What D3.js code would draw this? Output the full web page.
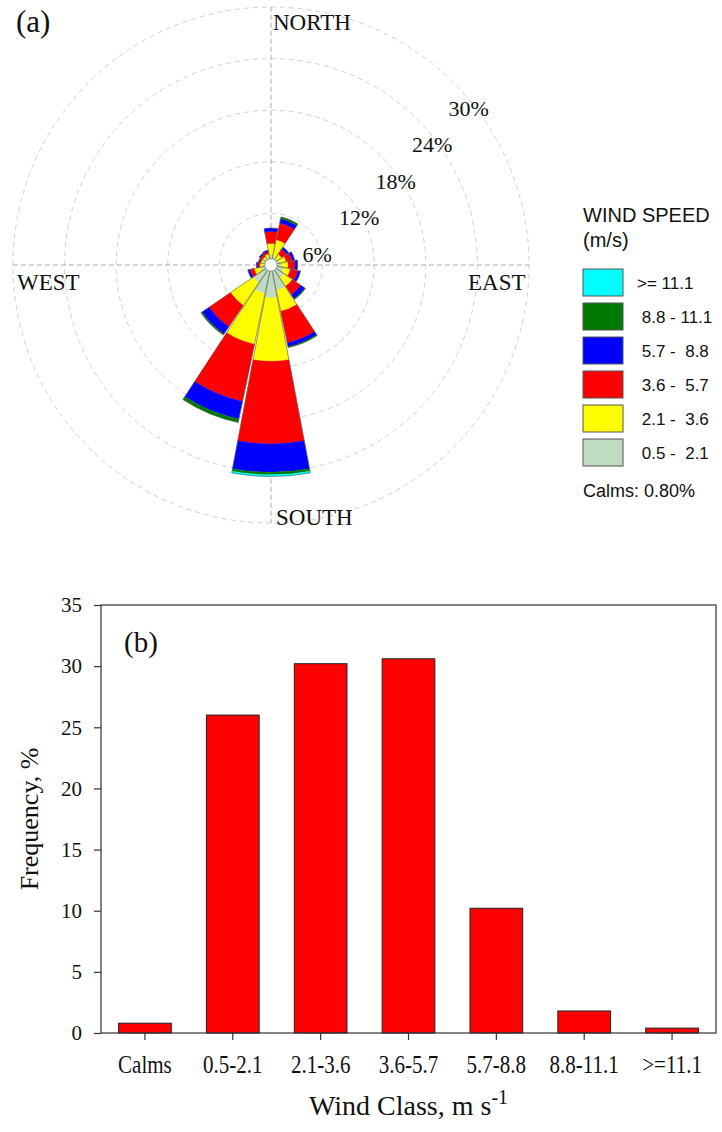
<!DOCTYPE html>
<html>
<head>
<meta charset="utf-8">
<script src="https://cdn.jsdelivr.net/npm/d3@7"></script>
<style>
  html, body { margin: 0; padding: 0; background: #fff; }
  svg { display: block; }
  text { white-space: pre; }
</style>
</head>
<body>
<svg id="chart" width="722" height="1132"></svg>
<script>
// ---- Wind rose data: percentage of time per direction and speed class ----
const directions = ["N","NNE","NE","ENE","E","ESE","SE","SSE","S","SSW","SW","WSW","W","WNW","NW","NNW"];
const speedClasses = ["0.5 - 2.1","2.1 - 3.6","3.6 - 5.7","5.7 - 8.8","8.8 - 11.1",">= 11.1"];
const class0521  = [1.2, 1.0, 0.9, 1.0, 1.2, 1.5, 1.8, 3.0, 3.8, 3.4, 2.5, 1.3, 0.9, 0.9, 0.9, 0.9];
const class2136  = [1.3, 2.0, 0.6, 0.8, 0.8, 0.8, 1.2, 2.5, 7.4, 6.0, 3.2, 0.7, 0.4, 0.3, 0.3, 0.4];
const class3657  = [1.4, 2.0, 0.7, 0.7, 0.8, 0.9, 1.2, 3.75, 9.6, 6.8, 3.0, 0.5, 0.25, 0.2, 0.3, 0.3];
const class5788  = [0.4, 0.5, 0.3, 0.3, 0.3, 0.3, 0.55, 0.45, 3.3, 2.1, 1.0, 0.25, 0.15, 0.1, 0.15, 0.15];
const class88111 = [0.0, 0.2, 0.0, 0.0, 0.0, 0.0, 0.1, 0.1, 0.3, 0.4, 0.15, 0.0, 0.0, 0.0, 0.0, 0.0];
const class111   = [0, 0, 0, 0, 0, 0, 0, 0, 0.2, 0, 0, 0, 0, 0, 0, 0];
const ringTicks = [6, 12, 18, 24, 30];
const legendLabels = [">= 11.1", " 8.8 - 11.1", " 5.7 -  8.8", " 3.6 -  5.7", " 2.1 -  3.6", " 0.5 -  2.1"];
const calmsText = "Calms: 0.80%";

// ---- Frequency distribution data ----
const windClasses = ["Calms","0.5-2.1","2.1-3.6","3.6-5.7","5.7-8.8","8.8-11.1",">=11.1"];
const frequency = [0.8, 26.0, 30.2, 30.6, 10.2, 1.8, 0.4];
const yTicks = [0, 5, 10, 15, 20, 25, 30, 35];

const classColors = ["#c0dcc0", "#ffff00", "#ff0000", "#0000ff", "#007a00", "#00ffff"];
const serif = "'Liberation Serif','Times New Roman',Times,serif";
const sans = "'Liberation Sans',Arial,Helvetica,sans-serif";

const svg = d3.select("#chart");
svg.append("rect").attr("width", 722).attr("height", 1132).attr("fill", "#fff");

// squeeze a text element horizontally while keeping its height
function condense(sel, factor) {
  sel.each(function () {
    const w = this.getComputedTextLength();
    d3.select(this).attr("textLength", w * factor).attr("lengthAdjust", "spacingAndGlyphs");
  });
}

// ================= (a) wind rose =================
const cx = 271, cy = 265, rMax = 258, holeR = 6;
const r = d3.scaleLinear().domain([0, 30]).range([0, rMax]);
const rose = svg.append("g").attr("transform", `translate(${cx},${cy})`);

// rings
rose.selectAll("circle.ring").data(ringTicks).join("circle")
  .attr("class", "ring")
  .attr("r", d => r(d))
  .attr("fill", "none")
  .attr("stroke", "#cdd0dc")
  .attr("stroke-width", 1)
  .attr("stroke-dasharray", "5,4");

// compass cross
rose.append("line").attr("x1", 0).attr("x2", 0).attr("y1", -rMax).attr("y2", rMax)
  .attr("stroke", "#a3a3c0").attr("stroke-width", 1).attr("stroke-dasharray", "5,3");
rose.append("line").attr("x1", -rMax).attr("x2", rMax).attr("y1", 0).attr("y2", 0)
  .attr("stroke", "#a3a3c0").attr("stroke-width", 1).attr("stroke-dasharray", "5,3");

// stacked petals
const classSeries = [class0521, class2136, class3657, class5788, class88111, class111];
const step = 2 * Math.PI / directions.length;
const half = step / 2 - (0.55 * Math.PI / 180);
const arc = d3.arc();
const petals = directions.map((dir, i) => {
  let cum = 0;
  const segs = classSeries.map((s, k) => {
    const start = cum; cum += s[i];
    return { k, start, end: cum };
  }).filter(s => s.end > s.start);
  return { dir, angle: i * step, segs, total: cum };
});

const petalG = rose.selectAll("g.petal").data(petals).join("g").attr("class", "petal");
petalG.selectAll("path.seg").data(p => p.segs.map(s => ({ ...s, angle: p.angle }))).join("path")
  .attr("class", "seg")
  .attr("d", s => arc({
    innerRadius: s.k === 0 ? holeR : r(s.start),
    outerRadius: r(s.end),
    startAngle: s.angle - half,
    endAngle: s.angle + half
  }))
  .attr("fill", s => classColors[s.k])
  .attr("stroke", s => classColors[s.k])
  .attr("stroke-width", 0.3);
petalG.append("path")
  .attr("d", p => arc({ innerRadius: holeR, outerRadius: r(p.total), startAngle: p.angle - half, endAngle: p.angle + half }))
  .attr("fill", "none")
  .attr("stroke", "#555")
  .attr("stroke-width", 0.6);

rose.append("circle").attr("r", holeR).attr("fill", "#fff").attr("stroke", "#aaa").attr("stroke-width", 0.6);

// ring labels along the 45 degree diagonal
rose.selectAll("text.ringlab").data(ringTicks).join("text")
  .attr("class", "ringlab")
  .attr("x", d => r(d) * Math.SQRT1_2 - 5)
  .attr("y", d => -r(d) * Math.SQRT1_2 + 33)
  .attr("font-family", serif).attr("font-size", 22).attr("fill", "#111")
  .text(d => d + "%");

// compass labels
const compass = [
  { t: "NORTH", x: 273, y: 30 },
  { t: "EAST", x: 468, y: 290 },
  { t: "WEST", x: 17, y: 290 },
  { t: "SOUTH", x: 276, y: 525 }
];
svg.selectAll("text.compass").data(compass).join("text")
  .attr("class", "compass")
  .attr("x", d => d.x).attr("y", d => d.y)
  .attr("font-family", serif).attr("font-size", 23).attr("fill", "#111")
  .text(d => d.t);

svg.append("text").attr("x", 16).attr("y", 32)
  .attr("font-family", serif).attr("font-size", 31).attr("fill", "#111").text("(a)");

// legend
const leg = svg.append("g").attr("transform", "translate(583,0)");
leg.append("text").attr("x", 0).attr("y", 222).attr("font-family", sans).attr("font-size", 20)
  .attr("fill", "#111").text("WIND SPEED");
leg.append("text").attr("x", 0).attr("y", 247).attr("font-family", sans).attr("font-size", 20)
  .attr("fill", "#111").text("(m/s)");
const legColors = classColors.slice().reverse();
const legRows = leg.selectAll("g.row").data(legendLabels).join("g")
  .attr("class", "row")
  .attr("transform", (d, i) => `translate(0,${269 + i * 34})`);
legRows.append("rect").attr("width", 40).attr("height", 27)
  .attr("fill", (d, i) => legColors[i]).attr("stroke", "#555").attr("stroke-width", 1);
legRows.append("text").attr("x", 54).attr("y", 20)
  .attr("font-family", sans).attr("font-size", 17).attr("fill", "#111")
  .text(d => d);
leg.append("text").attr("x", 0).attr("y", 497).attr("font-family", sans).attr("font-size", 18)
  .attr("fill", "#111").text(calmsText);

// ================= (b) frequency bars =================
const plotL = 101, plotR = 716, plotT = 605, plotB = 1033;
const x = d3.scaleBand().domain(windClasses).range([plotL, plotR]).paddingInner(0.4).paddingOuter(0.2);
const y = d3.scaleLinear().domain([0, 35]).range([plotB, plotT]);

svg.append("g").selectAll("rect").data(frequency).join("rect")
  .attr("x", (d, i) => x(windClasses[i]))
  .attr("y", d => y(d))
  .attr("width", x.bandwidth())
  .attr("height", d => y(0) - y(d))
  .attr("fill", "#ff0000")
  .attr("stroke", "#222")
  .attr("stroke-width", 1);

// frame
svg.append("rect").attr("x", plotL).attr("y", plotT).attr("width", plotR - plotL).attr("height", plotB - plotT)
  .attr("fill", "none").attr("stroke", "#333").attr("stroke-width", 1.2);

const yAxis = svg.append("g").attr("transform", `translate(${plotL},0)`)
  .call(d3.axisLeft(y).tickValues(yTicks).tickSize(7).tickPadding(12));
const xAxis = svg.append("g").attr("transform", `translate(0,${plotB})`)
  .call(d3.axisBottom(x).tickSize(7).tickPadding(15));
[yAxis, xAxis].forEach(g => {
  g.select(".domain").remove();
  g.selectAll(".tick line").attr("stroke", "#333").attr("stroke-width", 1.2);
  g.selectAll(".tick text").attr("font-family", serif).attr("fill", "#111");
});
yAxis.selectAll(".tick text").attr("font-size", 21);
xAxis.selectAll(".tick text").attr("font-size", 25);
condense(xAxis.selectAll(".tick text"), 0.84);

svg.append("text").attr("x", 124).attr("y", 652)
  .attr("font-family", serif).attr("font-size", 29).attr("fill", "#111").text("(b)");

svg.append("text")
  .attr("transform", `translate(38,${(plotT + plotB) / 2}) rotate(-90)`)
  .attr("text-anchor", "middle")
  .attr("font-family", serif).attr("font-size", 26).attr("fill", "#111")
  .text("Frequency, %");

const xl = svg.append("text")
  .attr("x", (plotL + plotR) / 2).attr("y", 1115)
  .attr("text-anchor", "middle")
  .attr("font-family", serif).attr("font-size", 28).attr("fill", "#111");
xl.append("tspan").text("Wind Class, m s");
xl.append("tspan").attr("dy", -11).attr("font-size", 20).text("-1");
</script>
</body>
</html>
